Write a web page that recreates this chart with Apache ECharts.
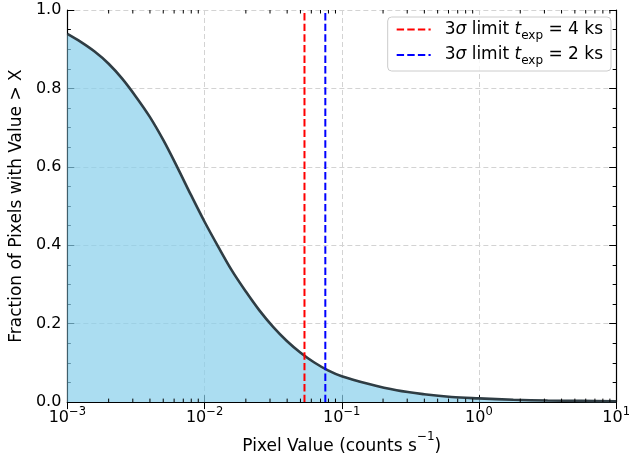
<!DOCTYPE html>
<html>
<head>
<meta charset="utf-8">
<script src="https://cdn.jsdelivr.net/npm/echarts@6/dist/echarts.min.js"></script>
<style>
  html, body { margin: 0; padding: 0; background: #fff; }
  #chart { width: 633px; height: 460px; }
</style>
</head>
<body>
<div id="chart"></div>
<script>
// pixel value (counts/s) and fraction of pixels above it
const pixelVals = [0.001, 0.00126, 0.00158, 0.002, 0.00251, 0.00316, 0.00398, 0.00501, 0.00631, 0.00794,
  0.01, 0.0126, 0.0158, 0.02, 0.0251, 0.0316, 0.0398, 0.0501, 0.0631, 0.0794,
  0.1, 0.158, 0.251, 0.398, 0.631, 1, 1.78, 3.16, 5.62, 10];
const fracVals = [0.939, 0.918, 0.894, 0.863, 0.825, 0.779, 0.728, 0.668, 0.600, 0.529,
  0.460, 0.396, 0.336, 0.282, 0.234, 0.192, 0.156, 0.126, 0.101, 0.081,
  0.066, 0.046, 0.030, 0.020, 0.013, 0.0095, 0.006, 0.004, 0.003, 0.002];

// 3 sigma limits
const limitNames = ['4 ks', '2 ks'];
const limitVals = [0.0535, 0.0759];
const limitColors = ['#ff0000', '#0000ff'];

const xMinorTicks = [];
[0.001, 0.01, 0.1, 1].forEach(function (d) {
  for (let k = 2; k <= 9; k++) xMinorTicks.push(+(d * k).toPrecision(3));
});

const FONT = '"DejaVu Sans", sans-serif';
const chart = echarts.init(document.getElementById('chart'));

function supLabel(v) {
  const e = Math.round(Math.log10(v));
  return '{b|10}{s|' + (e < 0 ? '\u2212' + (-e) : e) + '}';
}

const curve = pixelVals.map(function (x, i) { return [x, fracVals[i]]; });

const series = [{
  name: 'curve',
  type: 'line',
  data: curve,
  symbol: 'none',
  smooth: 0.35,
  lineStyle: { color: '#2f3d44', width: 2.6 },
  areaStyle: { color: '#87ceeb', opacity: 0.7, origin: 'start' },
  z: 3
}];

limitVals.forEach(function (v, i) {
  series.push({
    name: limitNames[i],
    type: 'line',
    data: [[v, 0], [v, 1]],
    symbol: 'none',
    lineStyle: { color: limitColors[i], width: 2, type: [7.4, 3.2] },
    itemStyle: { color: limitColors[i] },
    z: 4
  });
});

// log minor ticks on bottom and top
series.push({
  name: 'minor',
  type: 'custom',
  data: xMinorTicks.map(function (v) { return [v, 0]; }),
  silent: true,
  z: 6,
  renderItem: function (params, api) {
    const cs = params.coordSys;
    const x = api.coord([api.value(0), 0])[0];
    const style = { stroke: '#000', lineWidth: 1 };
    return {
      type: 'group',
      children: [
        { type: 'line', shape: { x1: x, y1: cs.y + cs.height, x2: x, y2: cs.y + cs.height - 3.5 }, style: style },
        { type: 'line', shape: { x1: x, y1: cs.y, x2: x, y2: cs.y + 3.5 }, style: style }
      ]
    };
  }
});

const legendRich = {
  p: { fontFamily: FONT, fontSize: 17, color: '#000', lineHeight: 24, verticalAlign: 'middle', padding: [0, 0, 0, 9] },
  n: { fontFamily: FONT, fontSize: 17, color: '#000', lineHeight: 24, verticalAlign: 'middle' },
  i: { fontFamily: FONT, fontSize: 17, color: '#000', fontStyle: 'italic', lineHeight: 24, verticalAlign: 'middle' },
  sub: { fontFamily: FONT, fontSize: 12, color: '#000', lineHeight: 24, verticalAlign: 'bottom' }
};

const option = {
  animation: false,
  textStyle: { fontFamily: FONT },
  grid: { left: 66, right: 13, top: 10, bottom: 53 },
  legend: {
    data: limitNames,
    right: 22,
    top: 17,
    orient: 'vertical',
    backgroundColor: 'rgba(255,255,255,0.8)',
    borderColor: '#cccccc',
    borderWidth: 1,
    borderRadius: 4,
    padding: [4, 8, 4, 8],
    itemGap: 5,
    itemWidth: 34,
    itemHeight: 14,
    itemStyle: { opacity: 0 },
    formatter: function (name) {
      return '{p|3}{i|\u03c3}{n| limit }{i|t}{sub|exp}{n| = ' + name + '}';
    },
    textStyle: { rich: legendRich }
  },
  xAxis: [{
    type: 'log',
    logBase: 10,
    min: 0.001,
    max: 10,
    name: '{n|Pixel Value (counts s}{s|\u22121}{n|)}',
    nameLocation: 'middle',
    nameGap: 26,
    nameTextStyle: {
      rich: {
        n: { fontFamily: FONT, fontSize: 17, color: '#000', lineHeight: 24, verticalAlign: 'bottom' },
        s: { fontFamily: FONT, fontSize: 12, color: '#000', lineHeight: 24, verticalAlign: 'top' }
      }
    },
    axisLine: { lineStyle: { color: '#000', width: 1.2 } },
    axisTick: { inside: true, length: 7, lineStyle: { color: '#000' } },
    axisLabel: {
      margin: 4,
      formatter: supLabel,
      showMinLabel: true,
      showMaxLabel: true,
      rich: {
        b: { fontFamily: FONT, fontSize: 16, color: '#000', lineHeight: 20, verticalAlign: 'bottom' },
        s: { fontFamily: FONT, fontSize: 11.5, color: '#000', lineHeight: 20, verticalAlign: 'top' }
      }
    },
    splitLine: { show: true, lineStyle: { color: '#d3d3d3', type: [5, 3], width: 1 } }
  }, {
    type: 'log',
    logBase: 10,
    min: 0.001,
    max: 10,
    position: 'top',
    axisLine: { lineStyle: { color: '#000', width: 1.2 } },
    axisTick: { inside: true, length: 7, lineStyle: { color: '#000' } },
    axisLabel: { show: false },
    splitLine: { show: false }
  }],
  yAxis: [{
    type: 'value',
    min: 0,
    max: 1,
    interval: 0.2,
    name: 'Fraction of Pixels with Value > X',
    nameLocation: 'middle',
    nameGap: 39,
    nameTextStyle: { fontFamily: FONT, fontSize: 17, color: '#000' },
    axisLine: { show: true, lineStyle: { color: '#000', width: 1.2 } },
    axisTick: { show: true, inside: true, length: 7, lineStyle: { color: '#000' } },
    minorTick: { show: true, splitNumber: 4, length: 3.5, lineStyle: { color: '#000' } },
    axisLabel: {
      fontFamily: FONT, fontSize: 16, color: '#000', margin: 6,
      formatter: function (v) { return v.toFixed(1); }
    },
    splitLine: { show: true, lineStyle: { color: '#d3d3d3', type: [5, 3], width: 1 } }
  }, {
    type: 'value',
    min: 0,
    max: 1,
    interval: 0.2,
    position: 'right',
    axisLine: { show: true, lineStyle: { color: '#000', width: 1.2 } },
    axisTick: { show: true, inside: true, length: 7, lineStyle: { color: '#000' } },
    minorTick: { show: true, splitNumber: 4, length: 3.5, lineStyle: { color: '#000' } },
    axisLabel: { show: false },
    splitLine: { show: false }
  }],
  series: series
};

chart.setOption(option);
window.addEventListener('resize', function () { chart.resize(); });
</script>
</body>
</html>
